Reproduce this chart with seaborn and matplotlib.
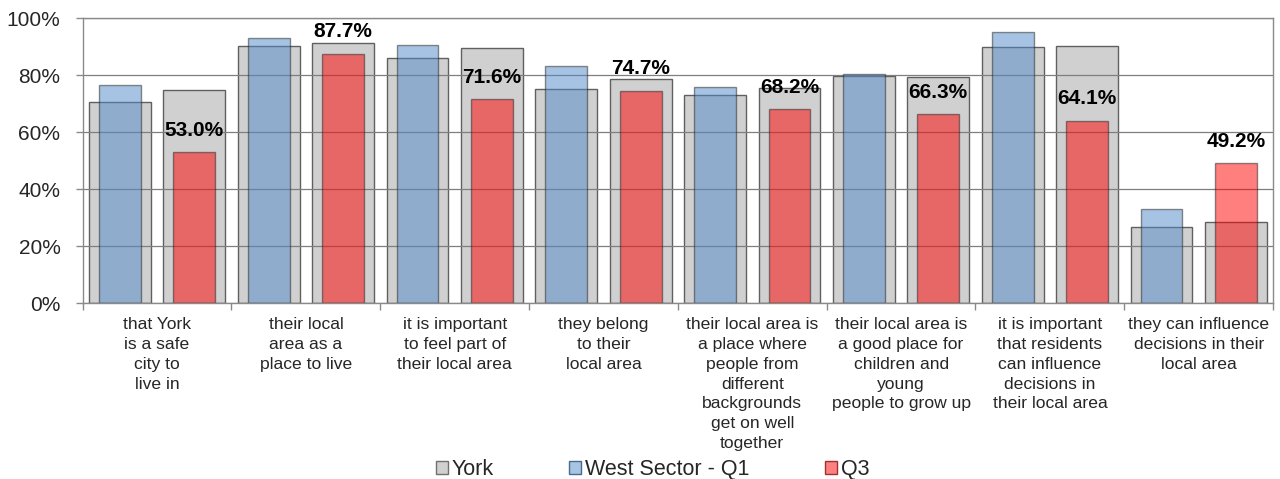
import matplotlib
matplotlib.use("Agg")
import matplotlib.pyplot as plt
import seaborn as sns
import pandas as pd
from matplotlib.patches import Patch
from matplotlib.ticker import FixedLocator

categories = [
    "that York\nis a safe\ncity to\nlive in",
    "their local\narea as a\nplace to live",
    "it is important\nto feel part of\ntheir local area",
    "they belong\nto their\nlocal area",
    "their local area is\na place where\npeople from\ndifferent\nbackgrounds\nget on well\ntogether",
    "their local area is\na good place for\nchildren and\nyoung\npeople to grow up",
    "it is important\nthat residents\ncan influence\ndecisions in\ntheir local area",
    "they can influence\ndecisions in their\nlocal area",
]
york_vs_q1 = [70.6, 90.2, 86.3, 75.4, 73.0, 79.9, 90.1, 26.9]
york_vs_q3 = [75.0, 91.4, 89.6, 78.7, 75.6, 79.3, 90.5, 28.5]
west_q1 = [76.6, 93.1, 90.8, 83.2, 75.9, 80.6, 95.3, 33.1]
q3 = [53.0, 87.7, 71.6, 74.7, 68.2, 66.3, 64.1, 49.2]
series_names = ["York", "West Sector - Q1", "Q3"]

sns.set_theme(style="white")
plt.rcParams["font.family"] = ["Liberation Sans", "DejaVu Sans"]

slots = ["q1", "q3"]
york_df = pd.DataFrame({
    "cat": categories * 2,
    "slot": ["q1"] * 8 + ["q3"] * 8,
    "val": york_vs_q1 + york_vs_q3,
})
survey_df = pd.DataFrame({
    "cat": categories * 2,
    "slot": ["q1"] * 8 + ["q3"] * 8,
    "val": west_q1 + q3,
})

fig = plt.figure(figsize=(12.8, 4.79), dpi=100)
ax = fig.add_axes([0.0646, 0.3668, 0.9300, 0.5946])

grey = "#d0d0d0"
blue = "#5189c9"
red = "#ff0000"

sns.barplot(data=york_df, x="cat", y="val", hue="slot", hue_order=slots,
            palette={"q1": grey, "q3": grey}, width=1.0, gap=0.17,
            saturation=1, edgecolor="#606060", linewidth=1.0, legend=False,
            ax=ax, zorder=2)
sns.barplot(data=survey_df, x="cat", y="val", hue="slot", hue_order=slots,
            palette={"q1": blue, "q3": red}, width=1.0, gap=0.44,
            saturation=1, edgecolor="#202020", linewidth=1.0, alpha=0.5,
            legend=False, ax=ax, zorder=3)

# data labels above Q3 bars
red_bars = ax.containers[3]
for rect, v in zip(red_bars, q3):
    ax.annotate(f"{v:.1f}%", (rect.get_x() + rect.get_width() / 2, rect.get_height()),
                xytext=(0, 9), textcoords="offset points", ha="center", va="bottom",
                fontsize=15, fontweight="bold", color="black", zorder=5)

ax.set_xlim(-0.5, 7.5)
ax.set_ylim(0, 100)
ax.set_yticks([0, 20, 40, 60, 80, 100])
ax.set_yticklabels([f"{t}%" for t in [0, 20, 40, 60, 80, 100]], fontsize=15)
ax.yaxis.grid(True, color="#7f7f7f", linewidth=0.9, zorder=4)
ax.set_axisbelow(False)
ax.set_xlabel("")
ax.set_ylabel("")

ax.xaxis.set_major_locator(FixedLocator([i - 0.5 for i in range(9)]))
ax.set_xticklabels([""] * 9)
ax.set_xticks(list(range(8)), minor=True)
ax.set_xticklabels(categories, minor=True, fontsize=12.6,
                   linespacing=1.4, va="top")
ax.tick_params(axis="x", which="major", length=5, width=1, color="#8a8a8a",
               direction="out", bottom=True)
ax.tick_params(axis="x", which="minor", length=0, pad=10)
ax.tick_params(axis="y", length=5, width=1, color="#8a8a8a", direction="out",
               left=True, pad=11)

for s in ["left", "bottom", "right", "top"]:
    ax.spines[s].set_visible(True)
    ax.spines[s].set_color("#8a8a8a")
    ax.spines[s].set_linewidth(1.0)
    ax.spines[s].set_zorder(6)

handles = [
    Patch(facecolor=grey, edgecolor="#707070", label=series_names[0]),
    Patch(facecolor="#a8c4e4", edgecolor="#4a6a90", label=series_names[1]),
    Patch(facecolor="#ff8080", edgecolor="#a03030", label=series_names[2]),
]
fig.legend(handles=handles, loc="center", bbox_to_anchor=(0.51, 0.02), ncol=3,
           frameon=False, fontsize=15.5, handlelength=0.55, handleheight=0.55,
           handletextpad=0.2, columnspacing=3.5, borderpad=0)

fig.savefig("out.png", dpi=100)
